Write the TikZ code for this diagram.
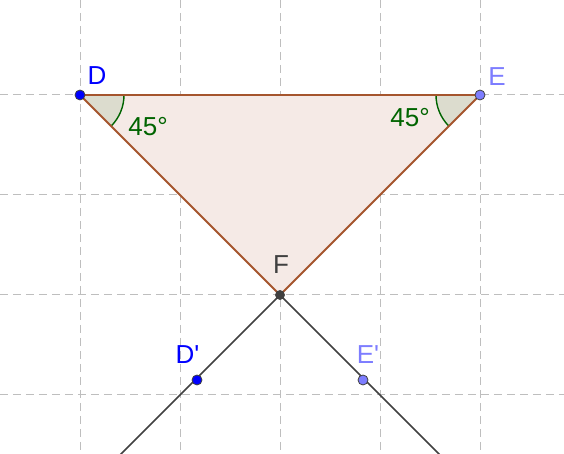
\documentclass[tikz,border=0pt]{standalone}
\usepackage{fontspec}
\setmainfont{Liberation Sans}
\newfontfamily\lblfont{Liberation Sans}
\usetikzlibrary{calc}
\definecolor{gridc}{RGB}{190,190,190}
\definecolor{edgec}{RGB}{165,85,45}
\definecolor{polyfill}{RGB}{245,234,230}
\definecolor{angc}{RGB}{0,100,0}
\definecolor{ptblue}{RGB}{0,0,255}
\definecolor{ptlight}{RGB}{125,125,255}
\definecolor{ptdark}{RGB}{64,64,64}
\begin{document}
\begin{tikzpicture}[x=0.5pt,y=-0.5pt,
  gridline/.style={draw=gridc, line width=0.5pt, dash pattern=on 4pt off 2.5pt},
  ptnode/.style={circle, inner sep=0pt, minimum size=5pt, draw=black!75, line width=0.4pt},
  lbl/.style={font=\lblfont\fontsize{13}{15}\selectfont, inner sep=0pt},
  angfill/.style={fill=angc, fill opacity=0.1},
  angarc/.style={draw=angc, line width=0.7pt},
  edge/.style={draw=edgec, line width=0.9pt},
  ray/.style={draw=ptdark, line width=0.75pt}]
\useasboundingbox (0,0) rectangle (564,454);
\clip (0,0) rectangle (564,454);
% grid
\foreach \gx in {80,180,280,380,480} \draw[gridline] (\gx,0) -- (\gx,454);
\foreach \gy in {95,195,295,395} \draw[gridline] (0,\gy) -- (564,\gy);
% coordinates
\coordinate (D) at (80,95);
\coordinate (E) at (480,95);
\coordinate (F) at (280,295);
\coordinate (D1) at (197,380);
\coordinate (E1) at (363,380);
\coordinate (Dend) at (100,475);
\coordinate (Eend) at (460,475);
% triangle
\fill[polyfill] (D) -- (E) -- (F) -- cycle;
% angle sectors
\fill[angfill] (D) -- ($(D)+(44,0)$) arc[start angle=0, end angle=45, radius=44] -- cycle;
\fill[angfill] (E) -- ($(E)+(-44,0)$) arc[start angle=180, end angle=135, radius=44] -- cycle;
\draw[angarc] ($(D)+(44,0)$) arc[start angle=0, end angle=45, radius=44];
\draw[angarc] ($(E)+(-44,0)$) arc[start angle=180, end angle=135, radius=44];
% edges
\draw[edge] (D) -- (E) -- (F) -- cycle;
% rays
\draw[ray] (F) -- (Dend);
\draw[ray] (F) -- (Eend);
% points
\node[ptnode, fill=ptblue] (pD) at (D) {};
\node[ptnode, fill=ptlight] (pE) at (E) {};
\node[ptnode, fill=ptdark, minimum size=4.5pt] (pF) at (F) {};
\node[ptnode, fill=ptblue] (pD1) at (D1) {};
\node[ptnode, fill=ptlight] (pE1) at (E1) {};
% labels
\node[lbl, text=ptblue] (lD) at (97,76) {D};
\node[lbl, text=ptlight] (lE) at (497,77) {E};
\node[lbl, text=ptdark] (lF) at (281,265) {F};
\node[lbl, text=ptblue] (lD1) at (187.5,355) {D'};
\node[lbl, text=ptlight] (lE1) at (368,355) {E'};
\node[lbl, text=angc] (aD) at (148,127) {45°};
\node[lbl, text=angc] (aE) at (410,118) {45°};
\end{tikzpicture}
\end{document}
